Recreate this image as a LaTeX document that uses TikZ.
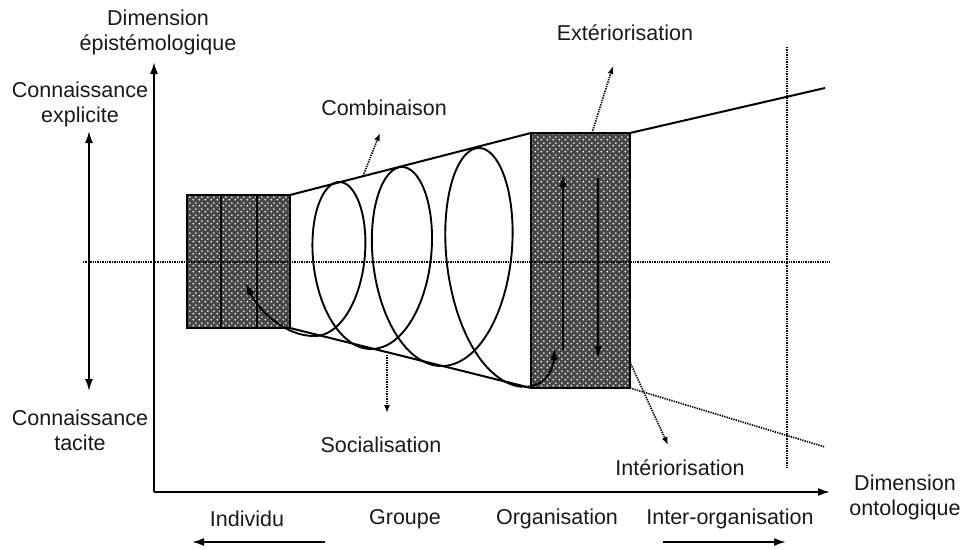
\documentclass[tikz,border=0pt]{standalone}
\usepackage{fontspec}
\setmainfont{Liberation Sans}
\usetikzlibrary{arrows.meta,patterns}

% dark mesh with white dots, as in the scanned boxes
\pgfdeclarepatternformonly{meshdots}{\pgfqpoint{0pt}{0pt}}{\pgfqpoint{6pt}{6pt}}{\pgfqpoint{6pt}{6pt}}{%
  \pgfpathcircle{\pgfqpoint{1.5pt}{1.5pt}}{1.1pt}%
  \pgfpathcircle{\pgfqpoint{4.5pt}{4.5pt}}{1.1pt}%
  \pgfusepath{fill}}

\tikzset{
  >={Latex[length=12pt,width=8pt]},
  lbl/.style={align=center,inner sep=0pt,text=black!90,font=\fontsize{21.5}{25}\selectfont},
  hatched/.style={draw,line width=1.8pt,inner sep=0pt,outer sep=0pt,
    preaction={fill=black!72},pattern=meshdots,pattern color=white},
  thickline/.style={line width=2pt},
  dotline/.style={line width=1.7pt,dash pattern=on 1.3pt off 1.1pt},
  pointer/.style={dotline,-{Latex[length=8pt,width=6pt]}},
}

\begin{document}
\begin{tikzpicture}[x=1pt,y=-1pt]
            \useasboundingbox (0,0) rectangle (963,549);

            % axes
            \coordinate (O) at (154,492);
            \coordinate (ytop) at (154,62);
            \coordinate (xend) at (830,492);
            \draw[->,line width=1.9pt] (O) -- (ytop);
            \draw[->,line width=1.9pt] (O) -- (xend);
            \node[lbl] (epist) at (158,32) {Dimension\\épistémologique};
            \node[lbl] (onto) at (905,497) {Dimension\\ontologique};

            % tacit / explicit
            \node[lbl] (expl) at (80,104) {Connaissance\\explicite};
            \node[lbl] (tac) at (80,430) {Connaissance\\tacite};
            \coordinate (kup) at (89,131);
            \coordinate (kdown) at (89,391);
            \draw[<->,line width=1.8pt] (kdown) -- (kup);

            % the two boxes
            \node[hatched,minimum width=103pt,minimum height=133pt] (indiv) at (238.5,261.5) {};
            \node[hatched,minimum width=99pt,minimum height=255pt] (orga) at (580.5,260.5) {};
            \foreach \xx in {221,257} {
                \draw[line width=1.8pt] (\xx,195) -- (\xx,328);
            }

            % funnel
            \coordinate (topend) at (825,88);
            \coordinate (botend) at (825,447);
            \draw[thickline] (indiv.north east) -- (orga.north west);
            \draw[thickline] (indiv.south east) -- (orga.south west);
            \draw[thickline] (orga.north east) -- (topend);
            \draw[dotline] (orga.south east) -- (botend);

            % dotted guides
            \draw[dotline] (83,262) -- (830,262);
            \draw[dotline] (787,47) -- (787,468);

            % knowledge spiral
            \coordinate (sp0) at (313.75,336);
            \coordinate (sp3) at (523.75,387);
            \draw[domain=0:3,smooth,variable=\u,samples=240,line width=1.9pt] plot ({340+63*(\u-0.5)+7*(\u-0.5)*(\u-1.5)+(36.1+6.75*\u)*sin(360*\u)},{262+(74+11*\u+2*\u*\u)*cos(360*\u)});
            \coordinate (tipL) at (246,283);
            \coordinate (tipR) at (555,348);
            \draw[->,line width=1.9pt] (sp0) .. controls (285,336) and (258,310) .. (tipL);
            \draw[->,line width=1.9pt] (sp3) .. controls (545,387) and (553,370) .. (tipR);

            % arrows inside the organisation box
            \draw[->,line width=1.8pt] (563,350) -- (563,175);
            \draw[->,line width=1.8pt] (598,178) -- (598,358);

            % the four modes
            \node[lbl] (comb) at (384,108) {Combinaison};
            \node[lbl] (exte) at (625,33) {Extériorisation};
            \node[lbl] (soci) at (381,445) {Socialisation};
            \node[lbl] (inte) at (680,468) {Intériorisation};
            \coordinate (c1) at (363,176);
            \coordinate (c2) at (380,133);
            \coordinate (e1) at (592,133);
            \coordinate (e2) at (613,66);
            \coordinate (s1) at (387,355);
            \coordinate (s2) at (387,413);
            \coordinate (i1) at (630,362);
            \coordinate (i2) at (668,445);
            \draw[pointer] (c1) -- (c2);
            \draw[pointer] (e1) -- (e2);
            \draw[pointer] (s1) -- (s2);
            \draw[pointer] (i1) -- (i2);

            % ontological levels
            \node[lbl] (lvl1) at (247,519) {Individu};
            \node[lbl] (lvl2) at (405,519) {Groupe};
            \node[lbl] (lvl3) at (557,519) {Organisation};
            \node[lbl] (lvl4) at (730,519) {Inter-organisation};
            \coordinate (la) at (325,542);
            \coordinate (lb) at (192,542);
            \coordinate (ra) at (663,542);
            \coordinate (rb) at (786,542);
            \draw[->,line width=1.9pt] (la) -- (lb);
            \draw[->,line width=1.9pt] (ra) -- (rb);
        \end{tikzpicture}
\end{document}
